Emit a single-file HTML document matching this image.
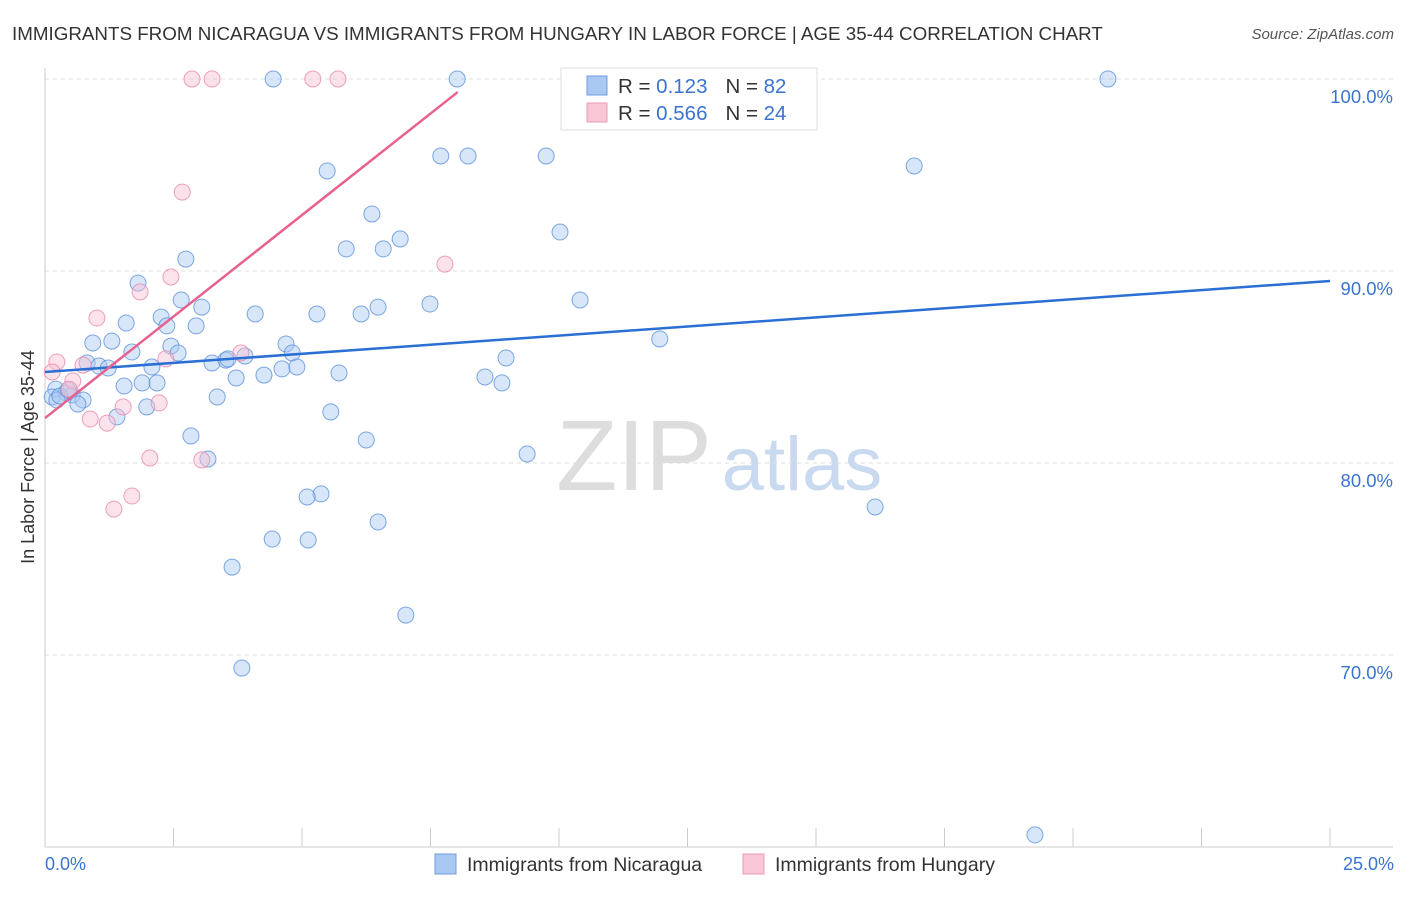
<!DOCTYPE html>
<html><head><meta charset="utf-8"><style>
body{margin:0;background:#fff;font-family:"Liberation Sans",sans-serif;}
svg text{font-family:"Liberation Sans",sans-serif;}
</style></head><body>
<svg id="chart" width="1406" height="892">
<text x="12" y="40" font-size="18.8" fill="#333">IMMIGRANTS FROM NICARAGUA VS IMMIGRANTS FROM HUNGARY IN LABOR FORCE | AGE 35-44 CORRELATION CHART</text>
<text x="1394" y="39" font-size="15" fill="#555" text-anchor="end" font-style="italic">Source: ZipAtlas.com</text>
<g><text x="634" y="490" font-size="100" fill="#ddd" font-family="Liberation Serif" text-anchor="middle">ZIP</text><text x="802" y="490" font-size="76" fill="#c9daf0" text-anchor="middle">atlas</text></g>
<g id="grid"></g><g id="axes"></g><g id="marks"></g>
<text transform="translate(34,457) rotate(-90)" font-size="18" fill="#333" text-anchor="middle">In Labor Force | Age 35-44</text>
<text x="45" y="870" font-size="18" fill="#3a74d0">0.0%</text>
<text x="1394" y="870" font-size="18" fill="#3a74d0" text-anchor="end">25.0%</text>
<g>
<rect x="561" y="68" width="256" height="62" fill="#fff" stroke="#ddd"/>
<rect x="587" y="76" width="20" height="19" fill="#a9c8f2" stroke="#6f9ee0"/>
<rect x="587" y="103" width="20" height="19" fill="#f9c6d6" stroke="#ec9bb5"/>
<text x="618" y="93" font-size="20.5" fill="#333">R = <tspan fill="#3a74d0"> 0.123</tspan><tspan dx="18">N = </tspan><tspan fill="#3a74d0">82</tspan></text>
<text x="618" y="120" font-size="20.5" fill="#333">R = <tspan fill="#3a74d0">0.566</tspan><tspan dx="18">N = </tspan><tspan fill="#3a74d0">24</tspan></text>
</g>
<g>
<rect x="435" y="854" width="21" height="20" fill="#a9c8f2" stroke="#6f9ee0"/>
<text x="467" y="871" font-size="19.5" fill="#333">Immigrants from Nicaragua</text>
<rect x="743" y="854" width="21" height="20" fill="#f9c6d6" stroke="#ec9bb5"/>
<text x="775" y="871" font-size="19.5" fill="#333">Immigrants from Hungary</text>
</g>
</svg>
<script>
const blueX=[4.44,8.02,20.68,5.49,7.70,8.23,9.75,16.91,6.36,10.02,5.86,6.58,6.91,2.74,1.81,2.65,3.05,4.09,5.29,6.15,6.48,7.49,10.41,1.58,2.26,2.37,2.94,11.96,0.93,1.30,1.69,2.45,2.59,4.69,4.81,8.97,0.82,1.05,1.23,2.08,3.25,3.52,3.56,3.89,4.61,4.90,4.26,3.72,5.72,8.56,8.89,1.54,1.89,2.18,0.21,0.41,0.53,0.14,0.23,0.74,0.64,1.98,1.40,3.35,5.56,2.84,6.25,3.17,9.38,5.37,5.10,6.48,16.15,4.42,5.12,3.64,7.02,3.83,19.26,0.29,0.45];
const blueY=[100,100,100,95.21,95.99,95.99,95.99,95.47,92.97,92.03,91.15,91.15,91.67,90.62,89.37,88.49,88.12,87.76,87.76,87.76,88.12,88.28,88.49,87.29,87.60,87.14,87.14,86.46,86.25,86.35,85.78,86.09,85.73,86.20,85.73,85.47,85.21,85.05,84.95,85.00,85.21,85.36,85.42,85.57,84.90,85.00,84.58,84.43,84.69,84.48,84.17,84.01,84.17,84.17,83.85,83.65,83.54,83.44,83.28,83.28,83.07,82.92,82.40,83.44,82.66,81.41,81.20,80.21,80.47,78.39,78.23,76.93,77.71,76.04,75.99,74.58,72.08,69.32,60.63,83.49,83.80];
const pinkX=[2.86,3.25,5.21,5.70,2.67,7.78,2.45,1.85,1.01,3.81,2.35,0.23,0.74,0.14,0.54,0.47,2.22,1.52,0.88,1.21,2.04,3.05,1.69,1.34];
const pinkY=[100,100,100,100,94.11,90.36,89.69,88.91,87.55,85.73,85.42,85.26,85.10,84.74,84.27,83.85,83.13,82.92,82.29,82.08,80.26,80.16,78.28,77.60];
const blueTrend=[[0,84.74],[25,89.48]];
const pinkTrend=[[0,82.34],[8.03,99.32]];
const yTicks=[100,90,80,70];
const yTickLabels=["100.0%","90.0%","80.0%","70.0%"];
const xTicks=[0,2.5,5,7.5,10,12.5,15,17.5,20,22.5,25];
const NS="http://www.w3.org/2000/svg";
const sx=v=>45+v*51.4, sy=v=>79+(100-v)*19.2;
function mk(t,a,p){const e=document.createElementNS(NS,t);for(const k in a)e.setAttribute(k,a[k]);p.appendChild(e);return e;}
const grid=document.getElementById('grid'),axes=document.getElementById('axes'),marks=document.getElementById('marks');
yTicks.forEach((v,i)=>{
 const l=mk('line',{x1:45,x2:1393,y1:sy(v),y2:sy(v),stroke:'#ddd','stroke-dasharray':'4,4'},grid);
 
 
 const t=mk('text',{x:1393,y:sy(v)+24,'font-size':18.5,fill:'#3a74d0','text-anchor':'end'},axes);t.textContent=yTickLabels[i];
 
 
});
const ya=mk('line',{x1:45,x2:45,y1:68,y2:847,stroke:'#ccc'},axes);


const xa=mk('line',{x1:45,x2:1393,y1:847,y2:847,stroke:'#ccc'},axes);


xTicks.forEach(v=>{const t=mk('line',{x1:sx(v),x2:sx(v),y1:828,y2:847,stroke:'#ccc'},axes);
 
 });
function pts(X,Y,fill,stroke,name){X.forEach((x,i)=>{const c=mk('circle',{cx:sx(x),cy:sy(Y[i]),r:8,fill:fill,'fill-opacity':0.45,stroke:stroke,'stroke-opacity':0.8,'stroke-width':1},marks);
 
 });}
pts(blueX,blueY,'#a9c8f2','#5e92dc','point-nicaragua');
pts(pinkX,pinkY,'#f9c0d2','#e88aaa','point-hungary');
const bl=mk('line',{x1:sx(blueTrend[0][0]),y1:sy(blueTrend[0][1]),x2:sx(blueTrend[1][0]),y2:sy(blueTrend[1][1]),stroke:'#2a6fd4','stroke-width':2.5},marks);


const pl=mk('line',{x1:sx(pinkTrend[0][0]),y1:sy(pinkTrend[0][1]),x2:sx(pinkTrend[1][0]),y2:sy(pinkTrend[1][1]),stroke:'#e8628f','stroke-width':2.5},marks);


</script>
</body></html>
